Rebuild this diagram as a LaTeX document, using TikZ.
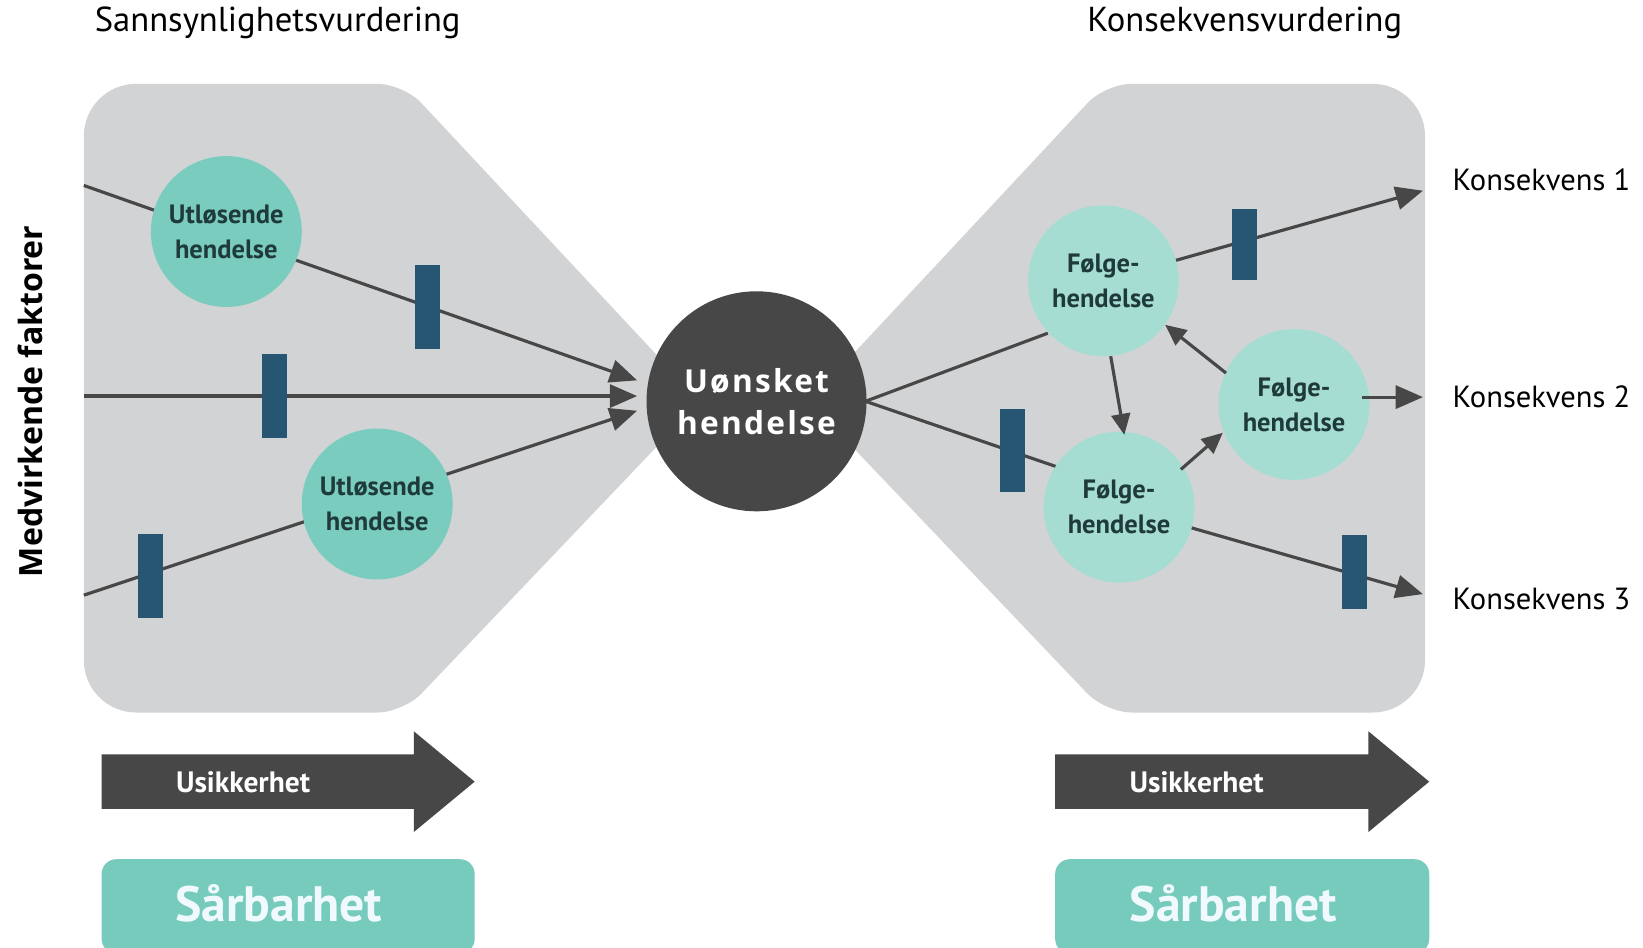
\documentclass[tikz,border=0pt]{standalone}
\usepackage{fontspec}
\setmainfont{PT Sans}
\newfontfamily\osans{Open Sans}
\usetikzlibrary{arrows.meta}
\definecolor{shapegray}{HTML}{D2D3D5}
\definecolor{darkg}{HTML}{474747}
\definecolor{barblue}{HTML}{265672}
\definecolor{tealA}{HTML}{7ACCBE}
\definecolor{tealB}{HTML}{A6DDD2}
\definecolor{sarb}{HTML}{76CBBC}
\definecolor{txtdark}{HTML}{1F3A3A}
\tikzset{
  conn/.style={draw=darkg, line width=0.3mm},
  arr/.style={conn, -{Triangle[length=2.6mm,width=2.2mm]}},
  sarr/.style={conn, -{Triangle[length=2mm,width=1.8mm]}},
  barbox/.style={fill=barblue, minimum width=2.4mm, minimum height=8mm, inner sep=0pt},
  trig/.style={circle, fill=tealA, minimum size=14.4mm, inner sep=0pt, align=center,
    font=\bfseries\fontsize{7.2}{9.5}\selectfont, text=txtdark},
  folg/.style={circle, minimum size=14.4mm, fill=tealB, inner sep=0pt, align=center,
    font=\bfseries\fontsize{7.2}{9.5}\selectfont, text=txtdark},
  title/.style={font=\fontsize{9.4}{11}\selectfont, text=black},
  kons/.style={font=\fontsize{8.3}{10}\selectfont, text=black, anchor=west},
  usik/.style={font=\bfseries\fontsize{8}{10}\selectfont, text=white},
  sarbtxt/.style={font=\bfseries\fontsize{13.5}{15}\selectfont, text=white!94!cyan},
}
\begin{document}
\begin{tikzpicture}[x=0.1mm, y=-0.1mm]
\useasboundingbox (0,0) rectangle (1568,904);
% gray bow-tie shapes
\fill[shapegray] (80,130) arc[start angle=180, end angle=90, radius=5mm]
  [rounded corners=2.5mm] -- (385,80) -- (668,383) -- (385,680) [sharp corners] -- (130,680)
  arc[start angle=270, end angle=180, radius=5mm] -- cycle;
\fill[shapegray] (1360,130) arc[start angle=0, end angle=90, radius=5mm]
  [rounded corners=2.5mm] -- (1055,80) -- (772,383) -- (1055,680) [sharp corners] -- (1310,680)
  arc[start angle=270, end angle=360, radius=5mm] -- cycle;
% titles
\node[title] (t1) at (265,22) {Sannsynlighetsvurdering};
\node[title] (t2) at (1188,22) {Konsekvensvurdering};
\node[font=\osans\bfseries\fontsize{8.7}{10}\selectfont, rotate=90] (mf) at (29,383) {Medvirkende faktorer};
% coordinates
\coordinate (s1) at (80,177);
\coordinate (s2) at (80,378);
\coordinate (s3) at (80,568);
\coordinate (e1) at (608,363);
\coordinate (e2) at (608,378);
\coordinate (e3) at (608,392);
\coordinate (ur) at (826,383);
\coordinate (f1in) at (1000,318);
\coordinate (f3in) at (1010,446);
\coordinate (k1) at (1358,182);
\coordinate (k2) at (1358,379);
\coordinate (k3) at (1358,567);
\coordinate (f2out) at (1300,379);
% left connectors
\draw[arr] (s1) -- (e1);
\draw[arr] (s2) -- (e2);
\draw[arr] (s3) -- (e3);
% right connectors
\draw[conn] (ur) -- (f1in);
\draw[conn] (ur) -- (f3in);
\coordinate (f1c) at (1053,268);
\coordinate (f3c) at (1068,484);
\draw[arr] (f1c) -- (k1);
\draw[arr] (f3c) -- (k3);
% bars
\node[barbox] (b1) at (408,293) {};
\node[barbox] (b2) at (262,378) {};
\node[barbox] (b3) at (144,550) {};
\node[barbox, minimum height=6.8mm] (b4) at (1188,233) {};
\node[barbox] (b5) at (966,430) {};
\node[barbox, minimum height=7mm] (b6) at (1293,546) {};
% circles
\node[trig] (u1) at (216,221) {Utløsende\\hendelse};
\node[trig] (u2) at (360,481) {Utløsende\\hendelse};
\node[circle, fill=darkg, minimum size=21mm, inner sep=0pt, align=center,
  font=\osans\bfseries\fontsize{8.6}{11.5}\selectfont, text=white] (uh) at (722,383)
  {\addfontfeature{LetterSpace=7}Uønsket\\\addfontfeature{LetterSpace=7}hendelse};
\node[folg] (f1) at (1053,268) {Følge-\\hendelse};
\node[folg] (f2) at (1235,386) {Følge-\\hendelse};
\node[folg] (f3) at (1068,484) {Følge-\\hendelse};
% inner arrows
\draw[sarr] (1060,340) -- (1073,415);
\draw[sarr] (1170,356) -- (1112,310);
\draw[sarr] (1127,448) -- (1167,413);
\draw[arr] (f2out) -- (k2);
% consequences
\node[kons] (kt1) at (1374,172) {Konsekvens 1};
\node[kons] (kt2) at (1374,379) {Konsekvens 2};
\node[kons] (kt3) at (1374,572) {Konsekvens 3};
% uncertainty arrows
\fill[darkg] (97,720) -- (395,720) -- (395,698) -- (453,746) -- (395,794) -- (395,772) -- (97,772) -- cycle;
\node[usik] (us1) at (232,747) {Usikkerhet};
\fill[darkg] (1007,720) -- (1306,720) -- (1306,698) -- (1364,746) -- (1306,794) -- (1306,772) -- (1007,772) -- cycle;
\node[usik] (us2) at (1142,747) {Usikkerhet};
% vulnerability boxes
\fill[sarb, rounded corners=1.4mm] (97,820) rectangle (453,910);
\node[sarbtxt] (sb1) at (266,862) {Sårbarhet};
\fill[sarb, rounded corners=1.4mm] (1007,820) rectangle (1364,910);
\node[sarbtxt] (sb2) at (1177,862) {Sårbarhet};
\end{tikzpicture}
\end{document}
